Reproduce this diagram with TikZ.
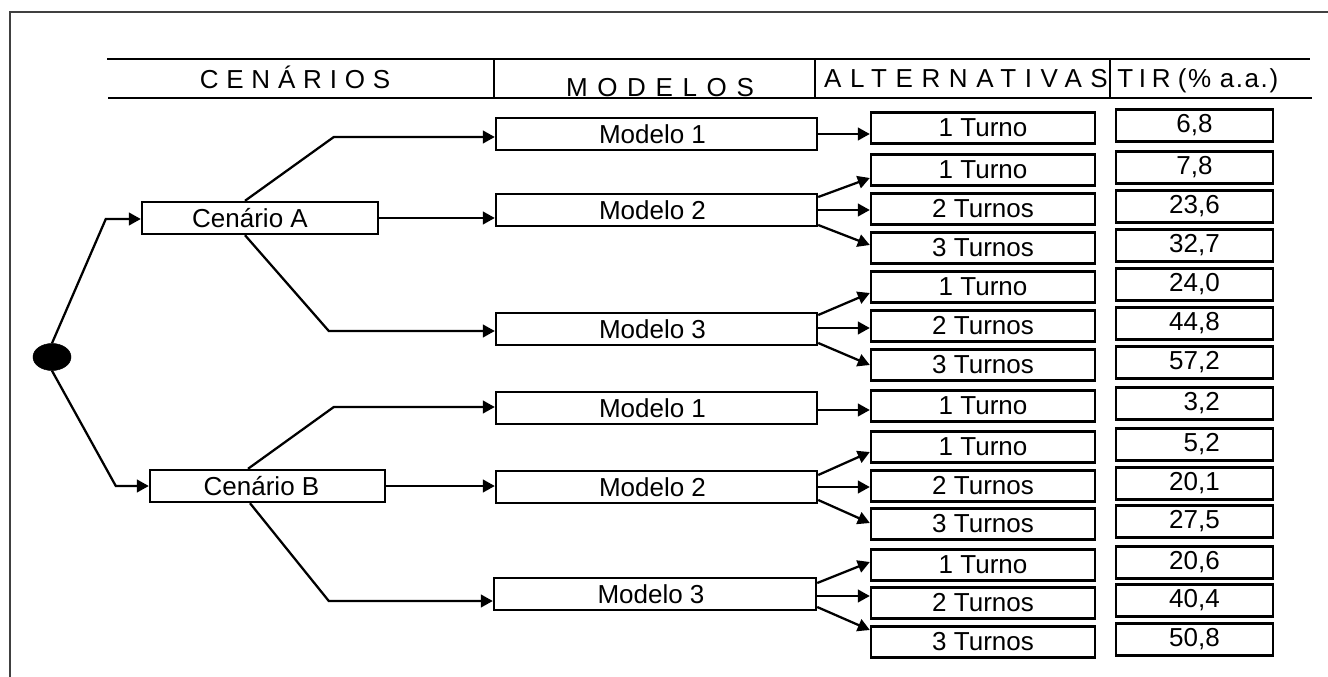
\documentclass[tikz,border=0pt]{standalone}
\usepackage{fontspec}
\setmainfont{Liberation Sans}
\usetikzlibrary{arrows.meta,calc,shapes.geometric}
\begin{document}
\begin{tikzpicture}[x=0.75pt,y=-0.75pt,
  txt/.style={font=\fontsize{19.5}{21}\selectfont},
  box/.style={draw,line width=1.8pt,inner sep=0pt,txt},
  cen/.style={box,minimum width=177pt,minimum height=24pt},
  mod/.style={box,minimum width=240.75pt,minimum height=24pt},
  alt/.style={box,minimum width=168pt,minimum height=23.25pt},
  tir/.style={box,minimum width=117.75pt,minimum height=24pt},
  arr/.style={line width=1.7pt,-{Triangle[length=9pt,width=9.5pt]}},
  hline/.style={line width=1.8pt},
  frame/.style={line width=0.8pt,black!75},
  head/.style={txt,inner sep=0pt,anchor=base}
]
\useasboundingbox (0,0) rectangle (1328,677);
% frame
\draw[frame] (10,677) -- (10,12) -- (1328,12);
% header
\draw[hline] (107,59) -- (1310,59);
\draw[hline] (108,98) -- (1312,98);
\draw[hline] (494,59) -- (494,98);
\draw[hline] (815,59) -- (815,98);
\draw[hline] (1110,59) -- (1110,98);
\node[head] (hc) at (295,89) {\addfontfeature{LetterSpace=30}CENÁRIOS};
\node[head] (hm) at (660,97) {\addfontfeature{LetterSpace=37}MODELOS};
\node[head] (ha) at (966,88) {\addfontfeature{LetterSpace=33}ALTERNATIVAS};
\node[head,anchor=base west] (ht) at (1117,88) {{\addfontfeature{LetterSpace=22}TIR} {\addfontfeature{LetterSpace=6}(\% a.a.)}};

% root dot
\node[ellipse,fill=black,draw=black,minimum width=28.5pt,minimum height=20.25pt,inner sep=0pt] (dot) at (52,357) {};

% scenarios
\node[cen] (ca) at (260,218) {Cenário A\hspace*{15pt}};
\node[cen,minimum width=176.25pt] (cb) at (267.5,486) {Cenário B\hspace*{9pt}};

% models
\node[mod] (m1a) at (656.5,134) {Modelo 1\hspace*{6pt}};
\node[mod] (m2a) at (656.5,210) {Modelo 2\hspace*{6pt}};
\node[mod] (m3a) at (656.5,329) {Modelo 3\hspace*{6pt}};
\node[mod] (m1b) at (656.5,408) {Modelo 1\hspace*{6pt}};
\node[mod] (m2b) at (656.5,487) {Modelo 2\hspace*{6pt}};
\node[mod,minimum width=241.5pt] (m3b) at (655,594) {Modelo 3\hspace*{6pt}};

% alternatives
\node[alt] (t1) at (983,128) {1 Turno};
\node[alt] (t2) at (983,170) {1 Turno};
\node[alt] (t3) at (983,209) {2 Turnos};
\node[alt] (t4) at (983,248) {3 Turnos};
\node[alt] (t5) at (983,287) {1 Turno};
\node[alt] (t6) at (983,326) {2 Turnos};
\node[alt] (t7) at (983,365) {3 Turnos};
\node[alt] (t8) at (983,406) {1 Turno};
\node[alt] (t9) at (983,447) {1 Turno};
\node[alt] (t10) at (983,486) {2 Turnos};
\node[alt] (t11) at (983,524) {3 Turnos};
\node[alt] (t12) at (983,565) {1 Turno};
\node[alt] (t13) at (983,603) {2 Turnos};
\node[alt] (t14) at (983,642) {3 Turnos};

% TIR values
\node[tir] (v1) at (1194.5,125.5) {6,8};
\node[tir] (v2) at (1194.5,167.5) {7,8};
\node[tir] (v3) at (1194.5,206.5) {23,6};
\node[tir] (v4) at (1194.5,245.5) {32,7};
\node[tir] (v5) at (1194.5,284.5) {24,0};
\node[tir] (v6) at (1194.5,323.5) {44,8};
\node[tir] (v7) at (1194.5,362.5) {57,2};
\node[tir] (v8) at (1194.5,403.5) {\hphantom{0}3,2};
\node[tir] (v9) at (1194.5,444.5) {\hphantom{0}5,2};
\node[tir] (v10) at (1194.5,483.5) {20,1};
\node[tir] (v11) at (1194.5,521.5) {27,5};
\node[tir] (v12) at (1194.5,562.5) {20,6};
\node[tir] (v13) at (1194.5,600.5) {40,4};
\node[tir] (v14) at (1194.5,639.5) {50,8};

% root to scenarios
\draw[arr] (dot.north) -- ($(ca.west)+(-35,1)$) -- ($(ca.west)+(0,1)$);
\draw[arr] (dot.south) -- ($(cb.west)+(-33,0)$) -- (cb.west);

% scenario A to models
\draw[arr] ($(ca.north)+(-15,0)$) -- ($(m1a.west)+(-161,3)$) -- ($(m1a.west)+(0,3)$);
\draw[arr] (ca.east) -- (ca.east -| m2a.west);
\draw[arr] ($(ca.south)+(-15,0)$) -- ($(m3a.west)+(-166,2)$) -- ($(m3a.west)+(0,2)$);

% scenario B to models
\draw[arr] ($(cb.north)+(-19.5,0)$) -- ($(m1b.west)+(-161,-1)$) -- ($(m1b.west)+(0,-1)$);
\draw[arr] (cb.east) -- (cb.east -| m2b.west);
\draw[arr] ($(cb.south)+(-17.5,0)$) -- ($(m3b.west)+(-164,7)$) -- ($(m3b.west)+(0,7)$);

% models to alternatives
\draw[arr] (m1a.east) -- (m1a.east -| t1.west);
\draw[arr] ($(m2a.east)+(0,-13)$) -- ($(t2.west)+(0,8)$);
\draw[arr] (m2a.east) -- ($(t3.west)+(0,1)$);
\draw[arr] ($(m2a.east)+(0,15)$) -- ($(t4.west)+(0,-3)$);
\draw[arr] ($(m3a.east)+(0,-14)$) -- ($(t5.west)+(0,6)$);
\draw[arr] ($(m3a.east)+(0,-1)$) -- ($(t6.west)+(0,2)$);
\draw[arr] ($(m3a.east)+(0,14)$) -- (t7.west);
\draw[arr] ($(m1b.east)+(0,2)$) -- ($(t8.west)+(0,4)$);
\draw[arr] ($(m2b.east)+(0,-12)$) -- ($(t9.west)+(0,5)$);
\draw[arr] (m2b.east) -- ($(t10.west)+(0,1)$);
\draw[arr] ($(m2b.east)+(0,13)$) -- ($(t11.west)+(0,-1)$);
\draw[arr] ($(m3b.east)+(0,-11)$) -- ($(t12.west)+(0,-3)$);
\draw[arr] ($(m3b.east)+(0,2)$) -- ($(t13.west)+(0,-7)$);
\draw[arr] ($(m3b.east)+(0,13)$) -- ($(t14.west)+(0,-12)$);
\end{tikzpicture}
\end{document}
